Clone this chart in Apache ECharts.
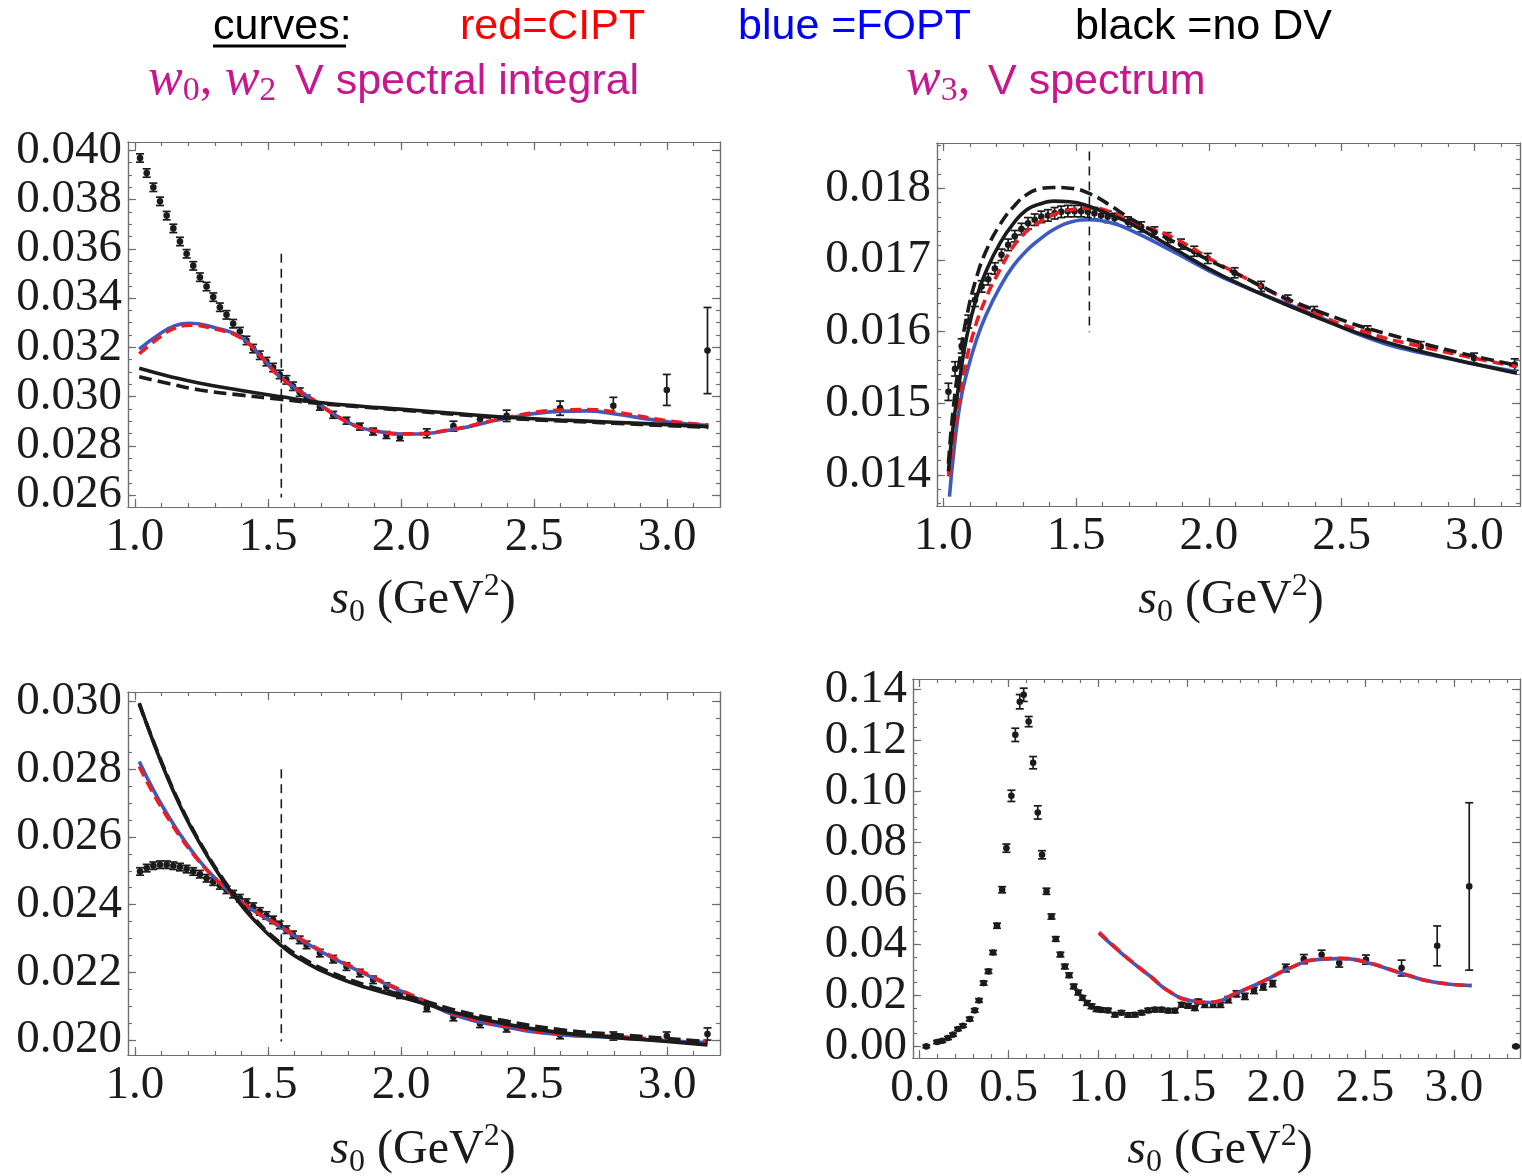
<!DOCTYPE html>
<html>
<head>
<meta charset="utf-8">
<title>Vector spectral integrals and spectrum vs s0</title>
<script src="https://cdn.jsdelivr.net/npm/echarts@6/dist/echarts.min.js"></script>
<style>
  html, body { margin: 0; padding: 0; background: #ffffff; }
  #chart { width: 1522px; height: 1176px; }
</style>
</head>
<body>
<div id="chart"></div>
<script>
// ---------- s0 bins (GeV^2) shared by the three integral panels ----------
const sBins = [1.019,1.044,1.069,1.094,1.119,1.144,1.169,1.194,1.219,1.244,
               1.269,1.294,1.319,1.344,1.369,1.394,1.419,1.444,1.469,1.494,
               1.519,1.544,1.569,1.594,1.619,1.645,1.695,1.745,1.795,1.845,
               1.895,1.945,1.996,2.097,2.197,2.297,2.397,2.598,2.798,2.999,3.152];

// ---------- w0 spectral integral (top left) ----------
const w0Data = [0.03969,0.03908,0.03850,0.03793,0.03735,0.03683,0.03630,0.03580,0.03531,0.03485,
                0.03447,0.03404,0.03363,0.03332,0.03296,0.03264,0.03228,0.03195,0.03168,0.03142,
                0.03118,0.03090,0.03068,0.03042,0.03018,0.02992,0.02959,0.02926,0.02902,0.02878,
                0.02858,0.02844,0.02835,0.02851,0.02880,0.02908,0.02922,0.02953,0.02963,0.03027,0.03187];
const w0Err  = [0.00017,0.00017,0.00017,0.00017,0.00017,0.00017,0.00017,0.00017,0.00017,0.00017,
                0.00017,0.00017,0.00017,0.00017,0.00017,0.00017,0.00017,0.00017,0.00017,0.00017,
                0.00017,0.00017,0.00017,0.00017,0.00017,0.00014,0.00014,0.00014,0.00014,0.00014,
                0.00014,0.00014,0.00014,0.00018,0.00020,0.00017,0.00023,0.00029,0.00034,0.00063,0.00175];
const w0FitS  = [1.016,1.094,1.144,1.207,1.300,1.395,1.470,1.545,1.670,1.796,1.896,2.034,2.197,2.397,2.598,2.698,2.798,3.000,3.155];
const w0Fopt  = [0.03193,0.03255,0.03285,0.03298,0.03280,0.03244,0.03168,0.03081,0.02987,0.02898,0.02862,0.02848,0.02866,0.02912,0.02940,0.02942,0.02930,0.02898,0.02882];
const w0Cipt  = [0.03174,0.03242,0.03275,0.03290,0.03275,0.03240,0.03166,0.03080,0.02986,0.02898,0.02862,0.02849,0.02868,0.02915,0.02945,0.02947,0.02938,0.02902,0.02884];
const w0NoDvS = [1.016,1.130,1.244,1.400,1.545,1.695,1.850,1.996,2.222,2.397,2.600,2.798,3.000,3.155];
const w0NoDv  = [0.03115,0.03082,0.03054,0.03025,0.03000,0.02976,0.02961,0.02949,0.02930,0.02916,0.02905,0.02896,0.02886,0.02878];
const w0NoDvB = [0.03081,0.03052,0.03027,0.03006,0.02989,0.02972,0.02958,0.02946,0.02926,0.02912,0.02901,0.02892,0.02882,0.02875];
const w0Cut   = [[1.55, 0.0358], [1.55, 0.0259]];

// ---------- w3 spectral integral (top right) ----------
const w3Data = [0.01516,0.01548,0.01580,0.01614,0.01644,0.01663,0.01673,0.01688,0.01707,0.01721,
                0.01733,0.01743,0.01751,0.01756,0.01760,0.01762,0.01765,0.01767,0.01768,0.01768,
                0.01768,0.01767,0.01765,0.01762,0.01760,0.01758,0.01753,0.01746,0.01739,0.01731,
                0.01722,0.01712,0.01702,0.01682,0.01663,0.01644,0.01628,0.01601,0.01579,0.01563,0.01554];
const w3Err  = [0.00012,0.00010,0.00010,0.00009,0.00009,0.00008,0.00008,0.00008,0.00008,0.00008,
                0.00008,0.00008,0.00008,0.00008,0.00008,0.00008,0.00008,0.00008,0.00008,0.00008,
                0.00008,0.00008,0.00008,0.00008,0.00008,0.00007,0.00007,0.00007,0.00007,0.00007,
                0.00007,0.00007,0.00007,0.00007,0.00007,0.00007,0.00007,0.00007,0.00007,0.00007,0.00008];
const w3FoptS = [1.023,1.040,1.063,1.088,1.126,1.163,1.213,1.264,1.314,1.364,1.414,1.480,1.553,1.628,1.703,1.854,2.055,2.400,2.601,2.802,3.160];
const w3Fopt  = [0.01370,0.01435,0.01500,0.01542,0.01590,0.01625,0.01662,0.01692,0.01713,0.01729,0.01742,0.01753,0.01756,0.01752,0.01742,0.01714,0.01675,0.01623,0.01591,0.01570,0.01544];
const w3CiptS = [1.019,1.044,1.075,1.113,1.163,1.213,1.264,1.314,1.364,1.414,1.480,1.553,1.628,1.703,1.854,2.055,2.400,2.601,2.802,3.160];
const w3Cipt  = [0.01398,0.01463,0.01537,0.01598,0.01649,0.01686,0.01719,0.01740,0.01753,0.01763,0.01770,0.01772,0.01767,0.01753,0.01733,0.01691,0.01626,0.01598,0.01579,0.01551];
const w3NoDvS = [1.019,1.038,1.063,1.088,1.126,1.163,1.213,1.264,1.314,1.364,1.414,1.477,1.553,1.628,1.703,1.854,2.055,2.400,2.601,2.802,3.160];
const w3NoDv  = [0.01405,0.01472,0.01537,0.01593,0.01649,0.01686,0.01723,0.01751,0.01770,0.01778,0.01782,0.01781,0.01774,0.01763,0.01751,0.01719,0.01677,0.01621,0.01593,0.01572,0.01542];
const w3NoDvBS = [1.019,1.038,1.063,1.088,1.126,1.163,1.213,1.264,1.314,1.364,1.414,1.477,1.553,1.628,1.703,1.854,2.092,2.400,2.800,3.160];
const w3NoDvB  = [0.01416,0.01495,0.01565,0.01621,0.01677,0.01714,0.01749,0.01774,0.01791,0.01799,0.01801,0.01800,0.01792,0.01776,0.01758,0.01728,0.01683,0.01630,0.01584,0.01553];
const w3Cut   = [[1.55, 0.01851], [1.55, 0.01599]];

// ---------- w2 spectral integral (bottom left) ----------
const w2Data = [0.02498,0.02508,0.02515,0.02518,0.02518,0.02515,0.02511,0.02505,0.02498,0.02490,
                0.02478,0.02468,0.02457,0.02444,0.02431,0.02419,0.02406,0.02394,0.02380,0.02368,
                0.02355,0.02340,0.02326,0.02311,0.02296,0.02281,0.02257,0.02239,0.02217,0.02198,
                0.02178,0.02158,0.02134,0.02094,0.02068,0.02048,0.02035,0.02015,0.02012,0.02012,0.02018];
const w2Err  = [0.00011,0.00011,0.00011,0.00011,0.00011,0.00011,0.00011,0.00011,0.00011,0.00011,
                0.00011,0.00011,0.00011,0.00011,0.00011,0.00011,0.00011,0.00011,0.00011,0.00011,
                0.00011,0.00011,0.00011,0.00011,0.00011,0.00011,0.00011,0.00011,0.00011,0.00011,
                0.00011,0.00011,0.00011,0.00010,0.00011,0.00011,0.00011,0.00011,0.00012,0.00012,0.00018];
const w2FitS  = [1.016,1.069,1.119,1.169,1.219,1.270,1.320,1.370,1.445,1.545,1.645,1.745,1.870,1.996,2.103,2.197,2.397,2.598,2.798,3.000,3.152];
const w2Fopt  = [0.02823,0.02739,0.02670,0.02608,0.02553,0.02504,0.02464,0.02428,0.02383,0.02335,0.02286,0.02242,0.02193,0.02146,0.02108,0.02075,0.02038,0.02016,0.02008,0.01998,0.01993];
const w2Cipt  = [0.02808,0.02728,0.02662,0.02602,0.02549,0.02502,0.02463,0.02428,0.02384,0.02337,0.02289,0.02245,0.02196,0.02149,0.02111,0.02078,0.02041,0.02019,0.02011,0.02001,0.01996];
const w2NoDv  = [0.02995,0.02880,0.02781,0.02693,0.02616,0.02546,0.02484,0.02429,0.02357,0.02282,0.02228,0.02190,0.02155,0.02128,0.02104,0.02082,0.02047,0.02022,0.02008,0.01996,0.01986];
const w2NoDvB = [0.02992,0.02883,0.02785,0.02697,0.02620,0.02550,0.02488,0.02433,0.02362,0.02288,0.02235,0.02197,0.02162,0.02135,0.02112,0.02090,0.02056,0.02031,0.02017,0.02005,0.01995];
const w2Cut   = [[1.55, 0.0280], [1.55, 0.01996]];

// ---------- V spectral function (bottom right) ----------
const specS = [0.037,0.097,0.127,0.159,0.187,0.215,0.243,0.281,0.309,0.333,
               0.359,0.386,0.412,0.434,0.463,0.487,0.515,0.537,0.562,0.584,
               0.612,0.637,0.663,0.687,0.712,0.740,0.764,0.790,0.815,0.839,
               0.865,0.890,0.914,0.940,0.965,0.993,1.021,1.058,1.096,1.133,
               1.171,1.208,1.246,1.283,1.321,1.358,1.396,1.433,1.470,1.508,
               1.545,1.564,1.601,1.648,1.689,1.733,1.779,1.826,1.877,1.929,
               1.982,2.056,2.157,2.257,2.356,2.506,2.706,2.906,3.086,3.348];
const specV = [0.0000,0.0017,0.0022,0.0033,0.0046,0.0068,0.0081,0.0107,0.0141,0.0180,
               0.0248,0.0294,0.0368,0.0473,0.0614,0.0777,0.0982,0.1221,0.1351,0.1378,
               0.1273,0.1112,0.0917,0.0751,0.0608,0.0509,0.0421,0.0360,0.0313,0.0279,
               0.0235,0.0211,0.0190,0.0170,0.0157,0.0146,0.0143,0.0141,0.0124,0.0132,
               0.0123,0.0124,0.0132,0.0141,0.0144,0.0144,0.0140,0.0140,0.0163,0.0159,
               0.0150,0.0176,0.0163,0.0163,0.0163,0.0183,0.0206,0.0196,0.0219,0.0233,
               0.0246,0.0307,0.0342,0.0359,0.0327,0.0340,0.0307,0.0394,0.0627,0.0000];
const specE = [0.0005,0.0006,0.0006,0.0006,0.0006,0.0006,0.0006,0.0007,0.0007,0.0007,
               0.0008,0.0008,0.0008,0.0010,0.0012,0.0016,0.0022,0.0026,0.0028,0.0026,
               0.0020,0.0024,0.0026,0.0016,0.0012,0.0010,0.0009,0.0009,0.0009,0.0009,
               0.0009,0.0009,0.0009,0.0009,0.0009,0.0009,0.0008,0.0008,0.0008,0.0008,
               0.0008,0.0008,0.0008,0.0008,0.0008,0.0008,0.0008,0.0008,0.0009,0.0009,
               0.0009,0.0009,0.0010,0.0010,0.0010,0.0012,0.0012,0.0012,0.0012,0.0012,
               0.0012,0.0015,0.0018,0.0018,0.0016,0.0018,0.0031,0.0078,0.0328,0.0004];
const specFitS = [1.007,1.100,1.198,1.300,1.386,1.517,1.629,1.779,1.929,2.079,2.229,2.360,2.510,2.697,2.884,3.099];
const specFopt = [0.0444,0.0385,0.0327,0.0272,0.0222,0.0180,0.0172,0.0209,0.0255,0.0307,0.0340,0.0344,0.0329,0.0288,0.0252,0.0238];
const specCipt = [0.0447,0.0387,0.0328,0.0272,0.0222,0.0180,0.0173,0.0210,0.0256,0.0307,0.0341,0.0345,0.0330,0.0289,0.0253,0.0239];

// ---------- tick labels ----------
const sTicks    = [1.0, 1.5, 2.0, 2.5, 3.0];
const specTicks = [0.0, 0.5, 1.0, 1.5, 2.0, 2.5, 3.0];
const w0Ticks   = [0.026, 0.028, 0.030, 0.032, 0.034, 0.036, 0.038, 0.040];
const w3Ticks   = [0.014, 0.015, 0.016, 0.017, 0.018];
const w2Ticks   = [0.020, 0.022, 0.024, 0.026, 0.028, 0.030];
const specYTicks = [0.00, 0.02, 0.04, 0.06, 0.08, 0.10, 0.12, 0.14];

// ---------- helpers ----------
function grid(a, b, d) {             // evenly spaced minor tick positions
  const out = [];
  const n = Math.round((b - a) / d);
  for (let i = 0; i <= n; i++) out.push(+(a + i * d).toFixed(6));
  return out;
}
const pairs = (xs, ys) => xs.map((x, i) => [x, ys[i]]);
const triples = (xs, ys, es) => xs.map((x, i) => [x, ys[i], es[i]]);

const FRAME = '#6e6e6e';
const INK = '#1b1b1b';
const RED = '#ea1d25';
const BLUE = '#3b5bc0';
const MAGENTA = '#c8168c';
const LABEL = { fontFamily: 'Liberation Serif', fontSize: 47, color: INK };

// frame geometry of the four panels
const panels = [
  { left: 128, top: 142, width: 592, height: 365, x: [0.9737, 3.199], y: [0.025516, 0.04034],
    xMaj: sTicks, xMin: grid(1.0, 3.1, 0.1), yMaj: w0Ticks, yMin: grid(0.026, 0.040, 0.0005), xd: 1, yd: 3 },
  { left: 937, top: 143, width: 583, height: 363, x: [0.976, 3.172], y: [0.013568, 0.01863],
    xMaj: sTicks, xMin: grid(1.0, 3.1, 0.1), yMaj: w3Ticks, yMin: grid(0.0136, 0.0186, 0.0002), xd: 1, yd: 3 },
  { left: 128, top: 692, width: 592, height: 363, x: [0.9737, 3.199], y: [0.01956, 0.03028],
    xMaj: sTicks, xMin: grid(1.0, 3.1, 0.1), yMaj: w2Ticks, yMin: grid(0.020, 0.030, 0.0005), xd: 1, yd: 3 },
  { left: 913, top: 679, width: 607, height: 379, x: [-0.0376, 3.371], y: [-0.00455, 0.1440],
    xMaj: specTicks, xMin: grid(0.0, 3.3, 0.1), yMaj: specYTicks, yMin: grid(0.0, 0.14, 0.005), xd: 1, yd: 2 }
];

function tickAxis(dim, g, p, pos, values, len, labels) {
  const range = dim === 'x' ? p.x : p.y;
  const dec = dim === 'x' ? p.xd : p.yd;
  return {
    type: 'value', gridIndex: g, min: range[0], max: range[1], position: pos,
    splitLine: { show: false },
    axisLine: { show: true, onZero: false, lineStyle: { color: FRAME, width: 1.2 } },
    axisTick: { show: true, inside: true, length: len, customValues: values,
                lineStyle: { color: FRAME, width: 1.2 } },
    axisLabel: labels
      ? Object.assign({ show: true, customValues: values, margin: dim === 'x' ? 7 : 6,
                        formatter: v => v.toFixed(dec) }, LABEL)
      : { show: false }
  };
}

const xAxis = [], yAxis = [], grids = [];
panels.forEach((p, g) => {
  grids.push({ left: p.left, top: p.top, width: p.width, height: p.height,
               containLabel: false, outerBoundsMode: 'none' });
  xAxis.push(tickAxis('x', g, p, 'bottom', p.xMaj, 8, true),
             tickAxis('x', g, p, 'bottom', p.xMin, 4, false),
             tickAxis('x', g, p, 'top', p.xMaj, 8, false),
             tickAxis('x', g, p, 'top', p.xMin, 4, false));
  yAxis.push(tickAxis('y', g, p, 'left', p.yMaj, 8, true),
             tickAxis('y', g, p, 'left', p.yMin, 4, false),
             tickAxis('y', g, p, 'right', p.yMaj, 8, false),
             tickAxis('y', g, p, 'right', p.yMin, 4, false));
});

// data point with vertical error bar and caps
function errorBar(params, api) {
  const x = api.value(0), y = api.value(1), e = api.value(2);
  const c = api.coord([x, y]);
  const hi = api.coord([x, y + e]);
  const lo = api.coord([x, y - e]);
  const w = 4;
  const st = { stroke: INK, lineWidth: 1.7 };
  return {
    type: 'group',
    children: [
      { type: 'line', shape: { x1: c[0], y1: hi[1], x2: c[0], y2: lo[1] }, style: st },
      { type: 'line', shape: { x1: c[0] - w, y1: hi[1], x2: c[0] + w, y2: hi[1] }, style: st },
      { type: 'line', shape: { x1: c[0] - w, y1: lo[1], x2: c[0] + w, y2: lo[1] }, style: st },
      { type: 'circle', shape: { cx: c[0], cy: c[1], r: 3.3 }, style: { fill: INK } }
    ]
  };
}

function points(g, data) {
  return { type: 'custom', xAxisIndex: 4 * g, yAxisIndex: 4 * g, data: data,
           encode: { x: 0, y: 1 }, renderItem: errorBar, silent: true, z: 2 };
}
function curve(g, data, color, dash, width) {
  return { type: 'line', xAxisIndex: 4 * g, yAxisIndex: 4 * g, data: data,
           showSymbol: false, symbol: 'none', smooth: 0.5,
           silent: true, z: 3,
           lineStyle: { color: color, width: width || 3.6, type: dash || 'solid', cap: 'butt' } };
}
function cutLine(g, data) {
  return { type: 'line', xAxisIndex: 4 * g, yAxisIndex: 4 * g, data: data,
           showSymbol: false, symbol: 'none', silent: true, z: 4,
           lineStyle: { color: INK, width: 1.6, type: [9, 6] } };
}

const series = [
  // top left: w0
  points(0, triples(sBins, w0Data, w0Err)),
  curve(0, pairs(w0FitS, w0Fopt), BLUE),
  curve(0, pairs(w0FitS, w0Cipt), RED, [11, 6]),
  curve(0, pairs(w0NoDvS, w0NoDv), INK),
  curve(0, pairs(w0NoDvS, w0NoDvB), INK, [13, 6]),
  cutLine(0, w0Cut),
  // top right: w3
  points(1, triples(sBins, w3Data, w3Err)),
  curve(1, pairs(w3FoptS, w3Fopt), BLUE),
  curve(1, pairs(w3CiptS, w3Cipt), RED, [11, 6]),
  curve(1, pairs(w3NoDvS, w3NoDv), INK),
  curve(1, pairs(w3NoDvBS, w3NoDvB), INK, [13, 6]),
  cutLine(1, w3Cut),
  // bottom left: w2
  points(2, triples(sBins, w2Data, w2Err)),
  curve(2, pairs(w2FitS, w2Fopt), BLUE),
  curve(2, pairs(w2FitS, w2Cipt), RED, [11, 6]),
  curve(2, pairs(w2FitS, w2NoDv), INK),
  curve(2, pairs(w2FitS, w2NoDvB), INK, [13, 6]),
  cutLine(2, w2Cut),
  // bottom right: spectral function
  points(3, triples(specS, specV, specE)),
  curve(3, pairs(specFitS, specFopt), BLUE),
  curve(3, pairs(specFitS, specCipt), RED, [11, 6])
];

// ---------- header and axis titles ----------
const SANS = 'Liberation Sans';
const SERIF = 'Liberation Serif';
function head(text, x, y, color) {
  return { type: 'text', x: x, y: y, silent: true,
           style: { text: text, fill: color, font: '43px "' + SANS + '"',
                    align: 'left', verticalAlign: 'middle' } };
}
const mathRich = {
  w: { fontFamily: SERIF, fontStyle: 'italic', fontSize: 52, lineHeight: 56, verticalAlign: 'middle', fill: MAGENTA },
  c: { fontFamily: SERIF, fontSize: 50, lineHeight: 56, verticalAlign: 'middle', fill: MAGENTA },
  d: { fontFamily: SERIF, fontSize: 34, lineHeight: 34, verticalAlign: 'bottom', fill: MAGENTA }
};
const axisRich = {
  s: { fontFamily: SERIF, fontStyle: 'italic', fontSize: 48, lineHeight: 58, verticalAlign: 'middle', fill: INK },
  b: { fontFamily: SERIF, fontSize: 32, lineHeight: 32, verticalAlign: 'bottom', fill: INK },
  n: { fontFamily: SERIF, fontSize: 48, lineHeight: 58, verticalAlign: 'middle', fill: INK },
  p: { fontFamily: SERIF, fontSize: 32, lineHeight: 32, verticalAlign: 'top', fill: INK }
};
function axisTitle(x, y) {
  return { type: 'text', x: x, y: y, silent: true,
           style: { text: '{s|s}{b|0}{n| (GeV}{p|2}{n|)}', rich: axisRich, fill: INK,
                    align: 'center', verticalAlign: 'middle' } };
}

const graphic = [
  head('curves:', 213, 27, '#000000'),
  { type: 'line', silent: true, shape: { x1: 213, y1: 46, x2: 346, y2: 46 },
    style: { stroke: '#000000', lineWidth: 3 } },
  head('red=CIPT', 460, 27, '#ff0000'),
  head('blue =FOPT', 738, 27, '#0000ff'),
  head('black =no DV', 1075, 27, '#000000'),
  { type: 'text', x: 148, y: 80, silent: true,
    style: { text: '{w|w}{d|0}{c|, }{w|w}{d|2}', rich: mathRich, fill: MAGENTA,
             align: 'left', verticalAlign: 'middle' } },
  head('V spectral integral', 295, 82, MAGENTA),
  { type: 'text', x: 906, y: 80, silent: true,
    style: { text: '{w|w}{d|3}{c|,}', rich: mathRich, fill: MAGENTA,
             align: 'left', verticalAlign: 'middle' } },
  head('V spectrum', 988, 82, MAGENTA),
  axisTitle(423, 600),
  axisTitle(1231, 600),
  axisTitle(423, 1150),
  axisTitle(1220, 1150)
];

const chart = echarts.init(document.getElementById('chart'), null, { renderer: 'canvas' });
chart.setOption({
  animation: false,
  backgroundColor: '#ffffff',
  grid: grids,
  xAxis: xAxis,
  yAxis: yAxis,
  series: series,
  graphic: graphic
});
</script>
</body>
</html>
